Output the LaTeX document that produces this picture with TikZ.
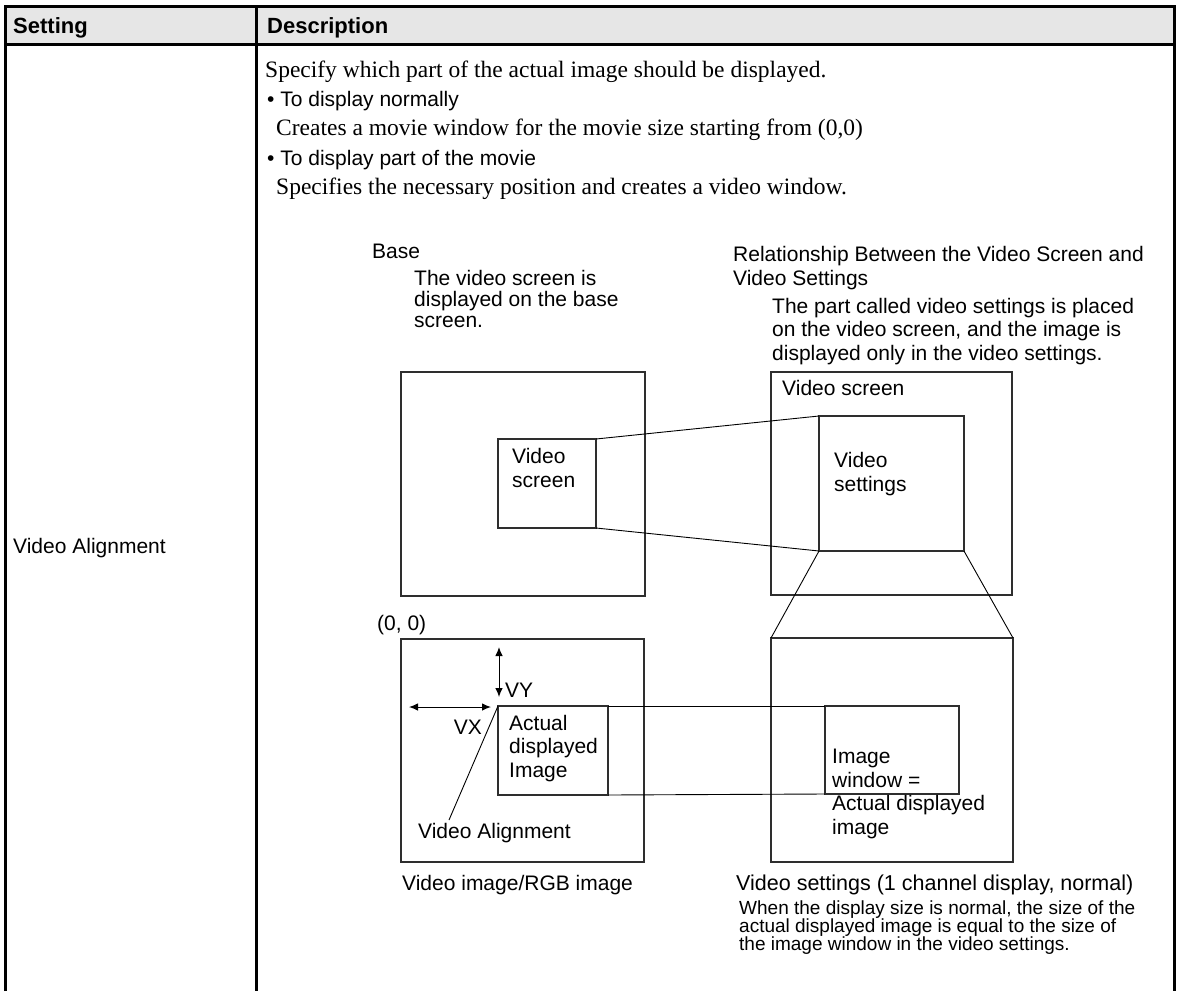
\documentclass[tikz,border=0pt]{standalone}
\usepackage{fontspec}
\setmainfont{Liberation Serif}
\setsansfont{Liberation Sans}
\usetikzlibrary{arrows.meta,fit}
\definecolor{headgray}{HTML}{E6E6E6}
\definecolor{panelgray}{HTML}{2E2E2E}

\begin{document}
\begin{tikzpicture}[x=1pt, y=-1pt,
    rule/.style={line width=3pt},
    panel/.style={draw=panelgray, line width=2.3pt, inner sep=0pt, outer sep=0pt},
    link/.style={line width=0.9pt},
    dim/.style={{Latex[length=9pt,width=7.5pt]}-{Latex[length=9pt,width=7.5pt]}, line width=1pt},
    head/.style={anchor=base west, inner sep=0pt, font=\sffamily\bfseries\fontsize{22}{24}\selectfont},
    serif/.style={anchor=base west, inner sep=0pt, font=\fontsize{23.5}{29}\selectfont},
    sans/.style={anchor=base west, inner sep=0pt, font=\sffamily\fontsize{21}{24}\selectfont},
    lbl/.style={anchor=base west, inner sep=0pt, align=left, font=\sffamily\fontsize{21}{23.5}\selectfont},
    tight/.style={lbl, font=\sffamily\fontsize{21}{21}\selectfont},
    note/.style={lbl, font=\sffamily\fontsize{19}{18}\selectfont}]
  % A screen panel: #1 = name, #2 and #3 = opposite corners.
  % Multi-line labels below sit on the baseline of their last line.
  \newcommand{\panelbox}[3]{\node[panel, fit={#2 #3}] (#1) {};}

  \useasboundingbox (0,0) rectangle (1178,991);

  % table frame
  \fill[headgray] (5,6) rectangle (1174,44);
  \draw[rule] (5,991) -- (5,6) -- (1174,6) -- (1174,991);
  \draw[rule] (5,44) -- (1174,44);
  \draw[rule] (256,6) -- (256,991);

  \node[head] (hset) at (13,33) {Setting};
  \node[head] (hdesc) at (267,33) {Description};
  \node[sans] (setname) at (13,553) {Video Alignment};

  \node[serif] (intro) at (265,77) {Specify which part of the actual image should be displayed.};
  \node[sans] (normal) at (267,106) {\textbullet\ To display normally};
  \node[serif] (normaltxt) at (276,135) {Creates a movie window for the movie size starting from (0,0)};
  \node[sans] (part) at (267,165) {\textbullet\ To display part of the movie};
  \node[serif] (parttxt) at (276,194) {Specifies the necessary position and creates a video window.};

  % captions above the screens
  \node[lbl] (basecap) at (372,258) {Base};
  \node[tight] (basenote) at (414,327) {The video screen is\\displayed on the base\\screen.};
  \node[lbl] (relcap) at (733,285) {Relationship Between the Video Screen and\\Video Settings};
  \node[lbl] (relnote) at (772,360) {The part called video settings is placed\\on the video screen, and the image is\\displayed only in the video settings.};

  % screens
  \panelbox{base}{(401,372)}{(645,596)}
  \panelbox{vscreen}{(498,439)}{(596,528)}
  \panelbox{vidscr}{(771,372)}{(1012,595)}
  \panelbox{vset}{(819,416)}{(964,551)}
  \panelbox{rgb}{(401,639)}{(644,862)}
  \panelbox{actual}{(498,706)}{(608,795)}
  \panelbox{chan}{(771,638)}{(1013,862)}
  \panelbox{imgwin}{(825,706)}{(959,794)}

  \node[lbl] (vscreentxt) at (512,487) {Video\\screen};
  \node[lbl] (vidscrtxt) at (782,395) {Video screen};
  \node[lbl] (vsettxt) at (834,491) {Video\\settings};
  \node[lbl] (actualtxt) at (509,777) {Actual\\displayed\\Image};
  \node[lbl] (imgwintxt) at (832,834) {Image\\window =\\Actual displayed\\image};

  \draw[link] (vscreen.north east) -- (vset.north west);
  \draw[link] (vscreen.south east) -- (vset.south west);
  \draw[link] (vset.south west) -- (chan.north west);
  \draw[link] (vset.south east) -- (chan.north east);
  \draw[link] (actual.north east) -- (imgwin.north west);
  \draw[link] (actual.south east) -- (imgwin.south west);

  % offset of the displayed image
  \node[lbl] (origin) at (377,630) {(0, 0)};
  \coordinate (vytop) at (499,647);
  \coordinate (vybot) at (499,697);
  \coordinate (vxleft) at (409,707);
  \coordinate (vxright) at (491,707);
  \draw[dim] (vytop) -- (vybot);
  \draw[dim] (vxleft) -- (vxright);
  \node[lbl] (vy) at (505,697) {VY};
  \node[lbl, anchor=base east] (vx) at (482,734) {VX};
  \node[lbl] (valign) at (418,838) {Video Alignment};
  \coordinate (valtip) at (449,820);
  \draw[link] (actual.north west) -- (valtip);

  % captions below the screens
  \node[lbl, font=\sffamily\fontsize{21.5}{23.5}\selectfont] (chancap) at (736,890) {Video settings (1 channel display, normal)};
  \node[lbl] (rgbcap) at (402,890) {Video image/RGB image};
  \node[note] (channote) at (739,950) {When the display size is normal, the size of the\\actual displayed image is equal to the size of\\the image window in the video settings.};
\end{tikzpicture}
\end{document}
